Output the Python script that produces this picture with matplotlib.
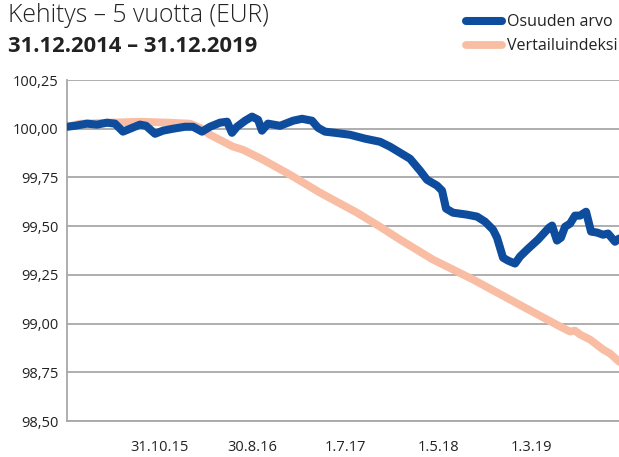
import matplotlib
matplotlib.use("Agg")
import matplotlib.pyplot as plt
from matplotlib.ticker import FuncFormatter

# months since 31.12.2014
fund_m = [0, 0.86, 2.15, 3.23, 4.31, 5.17, 6.03, 6.79, 7.86, 8.51, 9.48, 10.34,
          11.42, 12.71, 13.57, 14.54, 15.4, 16.48, 17.24, 17.77, 18.31, 19.18,
          19.93, 20.58, 21.0, 21.65, 22.95, 24.35, 25.32, 26.39, 27.04, 27.79,
          28.87, 30.49, 32.1, 33.72, 34.79, 35.87, 36.95, 38.03, 38.78, 39.86,
          40.4, 40.83, 41.58, 43.09, 44.17, 45.03, 45.89, 46.32, 46.97, 47.51,
          48.26, 48.8, 49.55, 50.74, 51.92, 52.25, 52.78, 53.21, 53.65, 54.19,
          54.72, 55.26, 55.91, 56.45, 57.09, 57.74, 58.28, 59.03, 59.46, 60]
fund_v = [100.010, 100.015, 100.026, 100.021, 100.031, 100.026, 99.985, 100.000,
          100.021, 100.015, 99.974, 99.990, 100.000, 100.010, 100.010, 99.985,
          100.010, 100.031, 100.036, 99.979, 100.010, 100.041, 100.062, 100.046,
          99.990, 100.026, 100.015, 100.041, 100.051, 100.041, 100.005, 99.985,
          99.979, 99.969, 99.949, 99.933, 99.908, 99.877, 99.846, 99.785, 99.738,
          99.708, 99.682, 99.590, 99.569, 99.559, 99.549, 99.523, 99.482, 99.441,
          99.338, 99.323, 99.308, 99.344, 99.379, 99.431, 99.492, 99.503, 99.426,
          99.441, 99.497, 99.513, 99.554, 99.554, 99.574, 99.472, 99.467, 99.456,
          99.462, 99.420, 99.436, 99.430]

index_m = [0, 1.4, 4.63, 7.86, 11.1, 13.25, 14.33, 15.4, 17.88, 18.96, 21.11,
           24.02, 27.25, 31.24, 33.72, 35.87, 39.43, 43.74, 49.12, 53.11, 54.19,
           54.72, 55.26, 56.34, 57.74, 58.5, 59.46, 60]
index_v = [100.010, 100.026, 100.031, 100.036, 100.031, 100.026, 100.005, 99.969,
           99.908, 99.892, 99.841, 99.764, 99.672, 99.569, 99.497, 99.431, 99.328,
           99.226, 99.087, 98.985, 98.959, 98.964, 98.944, 98.918, 98.867, 98.846,
           98.805, 98.790]

tick_m = [10, 20, 30, 40, 50]
tick_labels = ["31.10.15", "30.8.16", "1.7.17", "1.5.18", "1.3.19"]
y_ticks = [98.5, 98.75, 99.0, 99.25, 99.5, 99.75, 100.0, 100.25]

BLUE = "#0e4c9d"
ORANGE = "#f8bda3"
GRID = "#a8a8a8"

plt.rcParams["font.family"] = ["Open Sans", "DejaVu Sans"]
W, H = 619, 457
fig = plt.figure(figsize=(W / 100, H / 100), dpi=100)
ax = fig.add_axes([67 / W, 36 / H, (624 - 67) / W, (421 - 80) / H])

ax.plot(index_m, index_v, color=ORANGE, lw=5.6, solid_capstyle="round",
        solid_joinstyle="round", zorder=3, label="Vertailuindeksi")
ax.plot(fund_m, fund_v, color=BLUE, lw=5.8, solid_capstyle="round",
        solid_joinstyle="round", zorder=4, label="Osuuden arvo")

ax.set_xlim(0, 60)
ax.set_ylim(98.5, 100.25)
ax.set_yticks(y_ticks)
ax.yaxis.set_major_formatter(FuncFormatter(lambda v, _: f"{v:.2f}".replace(".", ",")))
ax.set_xticks(tick_m)
ax.set_xticklabels(tick_labels)
ax.grid(axis="y", color=GRID, lw=1.3, zorder=0)
ax.tick_params(length=0, labelsize=10.5, colors="#222222")
ax.tick_params(axis="x", pad=14)
ax.tick_params(axis="y", pad=6)
for s in ("top", "right"):
    ax.spines[s].set_visible(False)
for s in ("left", "bottom"):
    ax.spines[s].set_color(GRID)
    ax.spines[s].set_linewidth(1.3)

fig.text(8 / W, 1 - 22 / H, "Kehitys – 5 vuotta (EUR)", fontsize=17.8,
         fontweight="light", color="#222222", va="baseline")
fig.text(8 / W, 1 - 52 / H, "31.12.2014 – 31.12.2019", fontsize=15.8,
         fontweight="bold", color="#222222", va="baseline")

h, l = ax.get_legend_handles_labels()
fig.legend(h[::-1], l[::-1], loc="upper right", bbox_to_anchor=(629 / W, 1 - 3 / H),
           frameon=False, fontsize=11.5, handlelength=2.3, handletextpad=0.3,
           labelspacing=0.5, borderpad=0.2, labelcolor="#222222")

fig.savefig("out.png", dpi=100)
